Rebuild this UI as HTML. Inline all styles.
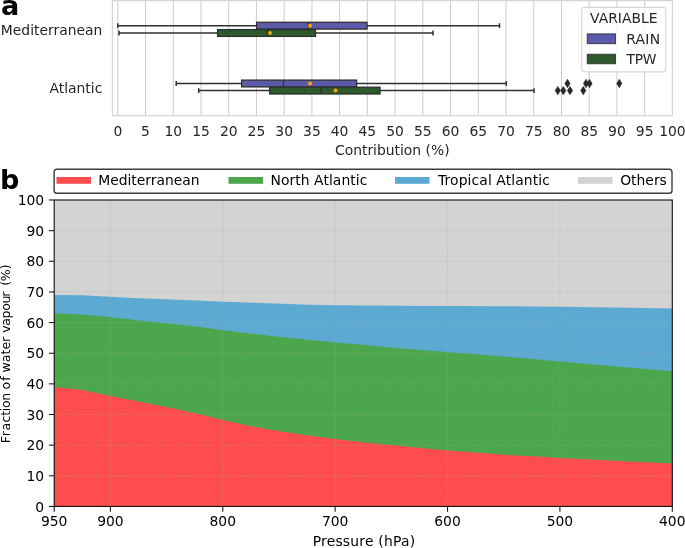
<!DOCTYPE html>
<html lang="en"><head><meta charset="utf-8"><title>Moisture source contributions</title>
<style>
html,body{margin:0;padding:0;background:#fff;}
body{width:685px;height:548px;overflow:hidden;position:relative;}
svg{display:block;position:absolute;left:0;top:0;}
text{font-family:"DejaVu Sans", "Liberation Sans", sans-serif;}
.ta{font-size:13.89px;fill:#262626;}
.tb{font-size:13.89px;fill:#000;}
.ty{font-size:12.5px;fill:#000;}
.tl{font-size:13.89px;fill:#000;}
.pl{font-size:27.1px;font-weight:bold;fill:#000;}
</style></head><body>
<svg width="685" height="548" viewBox="0 0 685 548">
<rect x="0" y="0" width="685" height="548" fill="#ffffff"/>

<g id="panel-a">
<g stroke="#cccccc" stroke-width="1" fill="none">
<line x1="117.80" y1="0.6" x2="117.80" y2="115.65"/>
<line x1="145.53" y1="0.6" x2="145.53" y2="115.65"/>
<line x1="173.26" y1="0.6" x2="173.26" y2="115.65"/>
<line x1="200.99" y1="0.6" x2="200.99" y2="115.65"/>
<line x1="228.72" y1="0.6" x2="228.72" y2="115.65"/>
<line x1="256.45" y1="0.6" x2="256.45" y2="115.65"/>
<line x1="284.18" y1="0.6" x2="284.18" y2="115.65"/>
<line x1="311.91" y1="0.6" x2="311.91" y2="115.65"/>
<line x1="339.64" y1="0.6" x2="339.64" y2="115.65"/>
<line x1="367.37" y1="0.6" x2="367.37" y2="115.65"/>
<line x1="395.10" y1="0.6" x2="395.10" y2="115.65"/>
<line x1="422.83" y1="0.6" x2="422.83" y2="115.65"/>
<line x1="450.56" y1="0.6" x2="450.56" y2="115.65"/>
<line x1="478.29" y1="0.6" x2="478.29" y2="115.65"/>
<line x1="506.02" y1="0.6" x2="506.02" y2="115.65"/>
<line x1="533.75" y1="0.6" x2="533.75" y2="115.65"/>
<line x1="561.48" y1="0.6" x2="561.48" y2="115.65"/>
<line x1="589.21" y1="0.6" x2="589.21" y2="115.65"/>
<line x1="616.94" y1="0.6" x2="616.94" y2="115.65"/>
<line x1="644.67" y1="0.6" x2="644.67" y2="115.65"/>
</g>
<g stroke="#303030" stroke-width="1.5" fill="none">
<line x1="117.90" y1="25.70" x2="256.60" y2="25.70"/>
<line x1="367.00" y1="25.70" x2="499.50" y2="25.70"/>
<line x1="117.90" y1="23.30" x2="117.90" y2="28.10"/>
<line x1="499.50" y1="23.30" x2="499.50" y2="28.10"/>
</g>
<rect x="256.60" y="22.30" width="110.40" height="6.80" fill="#5b5ba9" stroke="#303030" stroke-width="1.3"/>
<line x1="308.20" y1="22.30" x2="308.20" y2="29.10" stroke="#303030" stroke-width="1.3"/>
<circle cx="310.00" cy="25.70" r="2.0" fill="#ffa500"/>
<g stroke="#303030" stroke-width="1.5" fill="none">
<line x1="119.00" y1="33.00" x2="217.60" y2="33.00"/>
<line x1="315.50" y1="33.00" x2="433.00" y2="33.00"/>
<line x1="119.00" y1="30.60" x2="119.00" y2="35.40"/>
<line x1="433.00" y1="30.60" x2="433.00" y2="35.40"/>
</g>
<rect x="217.60" y="29.60" width="97.90" height="6.80" fill="#2d592d" stroke="#303030" stroke-width="1.3"/>
<line x1="267.60" y1="29.60" x2="267.60" y2="36.40" stroke="#303030" stroke-width="1.3"/>
<circle cx="270.00" cy="33.00" r="2.0" fill="#ffa500"/>
<g stroke="#303030" stroke-width="1.5" fill="none">
<line x1="176.20" y1="83.50" x2="241.60" y2="83.50"/>
<line x1="356.60" y1="83.50" x2="506.30" y2="83.50"/>
<line x1="176.20" y1="81.10" x2="176.20" y2="85.90"/>
<line x1="506.30" y1="81.10" x2="506.30" y2="85.90"/>
</g>
<rect x="241.60" y="80.10" width="115.00" height="6.80" fill="#5b5ba9" stroke="#303030" stroke-width="1.3"/>
<line x1="283.50" y1="80.10" x2="283.50" y2="86.90" stroke="#303030" stroke-width="1.3"/>
<path d="M567.50 79.30 L570.10 83.50 L567.50 87.70 L564.90 83.50 Z" fill="#262626" stroke="#262626" stroke-width="0.6"/>
<path d="M586.00 79.30 L588.60 83.50 L586.00 87.70 L583.40 83.50 Z" fill="#262626" stroke="#262626" stroke-width="0.6"/>
<path d="M589.50 79.30 L592.10 83.50 L589.50 87.70 L586.90 83.50 Z" fill="#262626" stroke="#262626" stroke-width="0.6"/>
<path d="M619.30 79.30 L621.90 83.50 L619.30 87.70 L616.70 83.50 Z" fill="#262626" stroke="#262626" stroke-width="0.6"/>
<circle cx="310.00" cy="83.50" r="2.0" fill="#ffa500"/>
<g stroke="#303030" stroke-width="1.5" fill="none">
<line x1="198.70" y1="90.60" x2="269.60" y2="90.60"/>
<line x1="380.00" y1="90.60" x2="534.00" y2="90.60"/>
<line x1="198.70" y1="88.20" x2="198.70" y2="93.00"/>
<line x1="534.00" y1="88.20" x2="534.00" y2="93.00"/>
</g>
<rect x="269.60" y="87.20" width="110.40" height="6.80" fill="#2d592d" stroke="#303030" stroke-width="1.3"/>
<line x1="321.00" y1="87.20" x2="321.00" y2="94.00" stroke="#303030" stroke-width="1.3"/>
<path d="M557.80 86.40 L560.40 90.60 L557.80 94.80 L555.20 90.60 Z" fill="#262626" stroke="#262626" stroke-width="0.6"/>
<path d="M563.30 86.40 L565.90 90.60 L563.30 94.80 L560.70 90.60 Z" fill="#262626" stroke="#262626" stroke-width="0.6"/>
<path d="M570.00 86.40 L572.60 90.60 L570.00 94.80 L567.40 90.60 Z" fill="#262626" stroke="#262626" stroke-width="0.6"/>
<path d="M583.30 86.40 L585.90 90.60 L583.30 94.80 L580.70 90.60 Z" fill="#262626" stroke="#262626" stroke-width="0.6"/>
<circle cx="335.50" cy="90.60" r="2.0" fill="#ffa500"/>
<rect x="112.5" y="0.6" width="559.9" height="115.05000000000001" fill="none" stroke="#d6d6d6" stroke-width="1.3"/>
<text class="ta" x="117.80" y="136.1" text-anchor="middle">0</text>
<text class="ta" x="145.53" y="136.1" text-anchor="middle">5</text>
<text class="ta" x="173.26" y="136.1" text-anchor="middle">10</text>
<text class="ta" x="200.99" y="136.1" text-anchor="middle">15</text>
<text class="ta" x="228.72" y="136.1" text-anchor="middle">20</text>
<text class="ta" x="256.45" y="136.1" text-anchor="middle">25</text>
<text class="ta" x="284.18" y="136.1" text-anchor="middle">30</text>
<text class="ta" x="311.91" y="136.1" text-anchor="middle">35</text>
<text class="ta" x="339.64" y="136.1" text-anchor="middle">40</text>
<text class="ta" x="367.37" y="136.1" text-anchor="middle">45</text>
<text class="ta" x="395.10" y="136.1" text-anchor="middle">50</text>
<text class="ta" x="422.83" y="136.1" text-anchor="middle">55</text>
<text class="ta" x="450.56" y="136.1" text-anchor="middle">60</text>
<text class="ta" x="478.29" y="136.1" text-anchor="middle">65</text>
<text class="ta" x="506.02" y="136.1" text-anchor="middle">70</text>
<text class="ta" x="533.75" y="136.1" text-anchor="middle">75</text>
<text class="ta" x="561.48" y="136.1" text-anchor="middle">80</text>
<text class="ta" x="589.21" y="136.1" text-anchor="middle">85</text>
<text class="ta" x="616.94" y="136.1" text-anchor="middle">90</text>
<text class="ta" x="644.67" y="136.1" text-anchor="middle">95</text>
<text class="ta" x="672.40" y="136.1" text-anchor="middle">100</text>
<text class="ta" x="102.3" y="35.1" text-anchor="end">Mediterranean</text>
<text class="ta" x="102.3" y="92.7" text-anchor="end">Atlantic</text>
<text class="ta" x="392.3" y="155" text-anchor="middle">Contribution (%)</text>
<rect x="581.7" y="7.4" width="84" height="64.5" rx="2.8" ry="2.8" fill="#ffffff" fill-opacity="0.8" stroke="#cccccc" stroke-opacity="0.8" stroke-width="1.1"/>
<text class="ta" x="623.75" y="23.3" text-anchor="middle">VARIABLE</text>
<rect x="587.2" y="33.9" width="28.4" height="9.8" fill="#5b5ba9" stroke="#303030" stroke-width="0.85"/>
<rect x="587.2" y="54.2" width="28.4" height="9.6" fill="#2d592d" stroke="#303030" stroke-width="0.85"/>
<text class="ta" x="626.3" y="43.7" textLength="33.8" lengthAdjust="spacing">RAIN</text>
<text class="ta" x="626.6" y="63.75" textLength="29.8" lengthAdjust="spacing">TPW</text>
<text class="pl" x="1" y="15">a</text>
</g>
<g id="panel-b">
<rect x="54.2" y="200.0" width="618.0999999999999" height="306.45" fill="#d3d3d3"/>
<path d="M54.20 295.00 L82.00 295.30 L110.25 296.75 L139.00 298.25 L166.50 299.25 L196.50 300.50 L225.00 301.75 L252.50 302.75 L281.25 303.75 L310.00 304.75 L335.50 305.25 L365.00 305.50 L396.00 305.75 L447.25 306.00 L496.00 306.25 L559.75 306.75 L614.00 307.50 L672.30 308.50 L672.30 506.45 L54.20 506.45 Z" fill="#5caad2"/>
<path d="M54.20 313.25 L81.50 314.50 L110.25 317.00 L139.00 320.50 L166.50 323.25 L196.50 326.50 L225.00 330.50 L252.50 333.75 L281.25 337.00 L310.00 340.00 L335.50 342.50 L365.00 345.00 L396.00 347.90 L421.00 350.00 L447.25 352.00 L478.50 354.50 L508.50 357.00 L536.00 359.25 L559.75 361.40 L614.00 366.25 L672.30 371.25 L672.30 506.45 L54.20 506.45 Z" fill="#4ca64c"/>
<path d="M54.20 387.00 L81.50 389.75 L110.25 396.00 L139.00 401.50 L166.50 407.00 L196.50 413.50 L225.00 420.40 L252.50 426.50 L281.25 431.50 L310.00 435.75 L335.50 439.00 L365.00 442.50 L396.00 445.50 L421.00 448.00 L447.25 450.50 L478.50 452.75 L508.50 454.90 L536.00 456.50 L559.75 457.90 L614.00 460.75 L672.30 463.50 L672.30 506.45 L54.20 506.45 Z" fill="#ff4d4d"/>
<g stroke="#aaaaaa" stroke-width="0.65" stroke-dasharray="1.2 1.0" stroke-opacity="0.6" fill="none">
<line x1="110.39" y1="200.0" x2="110.39" y2="506.45"/>
<line x1="222.77" y1="200.0" x2="222.77" y2="506.45"/>
<line x1="335.15" y1="200.0" x2="335.15" y2="506.45"/>
<line x1="447.54" y1="200.0" x2="447.54" y2="506.45"/>
<line x1="559.92" y1="200.0" x2="559.92" y2="506.45"/>
<line x1="54.2" y1="475.81" x2="672.3" y2="475.81"/>
<line x1="54.2" y1="445.16" x2="672.3" y2="445.16"/>
<line x1="54.2" y1="414.51" x2="672.3" y2="414.51"/>
<line x1="54.2" y1="383.87" x2="672.3" y2="383.87"/>
<line x1="54.2" y1="353.23" x2="672.3" y2="353.23"/>
<line x1="54.2" y1="322.58" x2="672.3" y2="322.58"/>
<line x1="54.2" y1="291.94" x2="672.3" y2="291.94"/>
<line x1="54.2" y1="261.29" x2="672.3" y2="261.29"/>
<line x1="54.2" y1="230.64" x2="672.3" y2="230.64"/>
</g>
<rect x="54.2" y="200.0" width="618.0999999999999" height="306.45" fill="none" stroke="#111111" stroke-width="1.1"/>
<g stroke="#111" stroke-width="1.05">
<line x1="54.20" y1="506.45" x2="54.20" y2="511.75"/>
<line x1="110.39" y1="506.45" x2="110.39" y2="511.75"/>
<line x1="222.77" y1="506.45" x2="222.77" y2="511.75"/>
<line x1="335.15" y1="506.45" x2="335.15" y2="511.75"/>
<line x1="447.54" y1="506.45" x2="447.54" y2="511.75"/>
<line x1="559.92" y1="506.45" x2="559.92" y2="511.75"/>
<line x1="672.30" y1="506.45" x2="672.30" y2="511.75"/>
<line x1="54.2" y1="506.45" x2="48.900000000000006" y2="506.45"/>
<line x1="54.2" y1="475.81" x2="48.900000000000006" y2="475.81"/>
<line x1="54.2" y1="445.16" x2="48.900000000000006" y2="445.16"/>
<line x1="54.2" y1="414.51" x2="48.900000000000006" y2="414.51"/>
<line x1="54.2" y1="383.87" x2="48.900000000000006" y2="383.87"/>
<line x1="54.2" y1="353.23" x2="48.900000000000006" y2="353.23"/>
<line x1="54.2" y1="322.58" x2="48.900000000000006" y2="322.58"/>
<line x1="54.2" y1="291.94" x2="48.900000000000006" y2="291.94"/>
<line x1="54.2" y1="261.29" x2="48.900000000000006" y2="261.29"/>
<line x1="54.2" y1="230.64" x2="48.900000000000006" y2="230.64"/>
<line x1="54.2" y1="200.00" x2="48.900000000000006" y2="200.00"/>
</g>
<text class="tb" x="54.20" y="526.4" text-anchor="middle">950</text>
<text class="tb" x="110.39" y="526.4" text-anchor="middle">900</text>
<text class="tb" x="222.77" y="526.4" text-anchor="middle">800</text>
<text class="tb" x="335.15" y="526.4" text-anchor="middle">700</text>
<text class="tb" x="447.54" y="526.4" text-anchor="middle">600</text>
<text class="tb" x="559.92" y="526.4" text-anchor="middle">500</text>
<text class="tb" x="672.30" y="526.4" text-anchor="middle">400</text>
<text class="tb" x="44.2" y="511.65" text-anchor="end">0</text>
<text class="tb" x="44.2" y="481.00" text-anchor="end">10</text>
<text class="tb" x="44.2" y="450.36" text-anchor="end">20</text>
<text class="tb" x="44.2" y="419.71" text-anchor="end">30</text>
<text class="tb" x="44.2" y="389.07" text-anchor="end">40</text>
<text class="tb" x="44.2" y="358.43" text-anchor="end">50</text>
<text class="tb" x="44.2" y="327.78" text-anchor="end">60</text>
<text class="tb" x="44.2" y="297.13" text-anchor="end">70</text>
<text class="tb" x="44.2" y="266.49" text-anchor="end">80</text>
<text class="tb" x="44.2" y="235.84" text-anchor="end">90</text>
<text class="tb" x="44.2" y="205.20" text-anchor="end">100</text>
<text class="tl" x="312.7" y="545.75" textLength="102.4" lengthAdjust="spacing">Pressure (hPa)</text>
<text class="ty" transform="translate(9.7 443) rotate(-90)" x="-0.23 6.76 12.55 20.41 27.16 31.82 35.01 42.16 50.08 53.61 62.21 66.61 70.48 80.75 88.46 93.61 100.96 106.1 110.23 117.15 124.46 132.31 139.64 146.36 151.5 157.23 161.81 173.8">Fraction of water vapour (%)</text>
<rect x="54.1" y="169.3" width="617.9" height="23.9" rx="2.8" ry="2.8" fill="#ffffff" stroke="#3c3c3c" stroke-width="1.4"/>
<rect x="56.5" y="177" width="34.5" height="6.8" fill="#ff4d4d"/>
<text class="tl" x="98.2" y="185.25">Mediterranean</text>
<rect x="228.5" y="177" width="34.5" height="6.8" fill="#4ca64c"/>
<text class="tl" x="270.5" y="185.25" textLength="96.8" lengthAdjust="spacing">North Atlantic</text>
<rect x="395" y="177" width="34.5" height="6.8" fill="#5caad2"/>
<text class="tl" x="438.0" y="185.25" textLength="111.9" lengthAdjust="spacing">Tropical Atlantic</text>
<rect x="578" y="177" width="34.5" height="6.8" fill="#d3d3d3"/>
<text class="tl" x="620.2" y="185.25">Others</text>
<text class="pl" x="0" y="189">b</text>
</g>
</svg>
</body></html>
